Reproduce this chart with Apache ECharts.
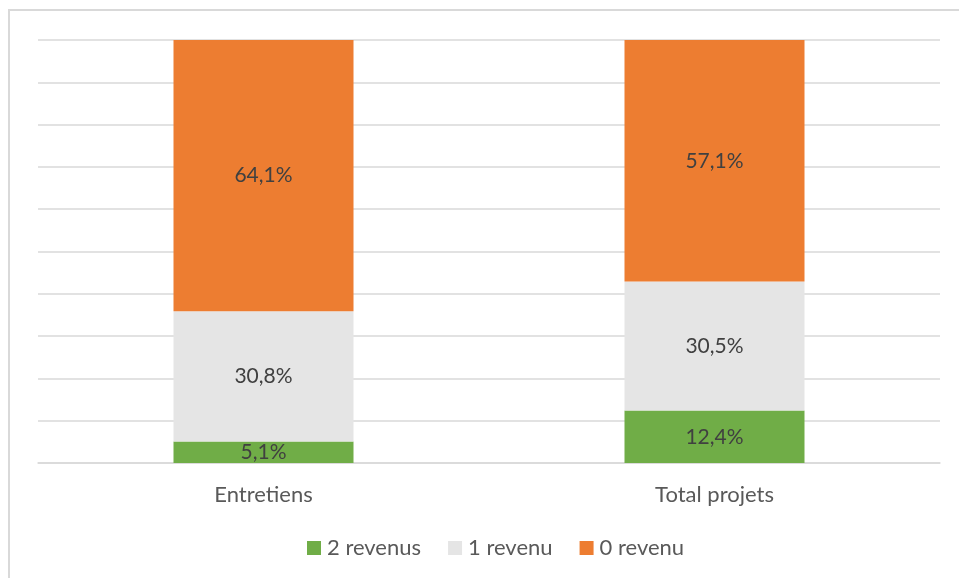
<!DOCTYPE html>
<html><head><meta charset="utf-8">
<script src="https://cdn.jsdelivr.net/npm/echarts@6/dist/echarts.min.js"></script>
<style>html,body{margin:0;padding:0;background:#fff}#c{width:959px;height:578px}</style>
</head><body><div id="c"></div>
<script>
const categories = ['Entretiens', 'Total projets'];
const seriesNames = ['2 revenus', '1 revenu', '0 revenu'];
const deuxRevenus = [5.1, 12.4];
const unRevenu = [30.8, 30.5];
const zeroRevenu = [64.1, 57.1];
const colors = ['#70ad47', '#e5e5e5', '#ed7d31'];

const font = 'Lato, "Open Sans", sans-serif';
const chart = echarts.init(document.getElementById('c'));
const lbl = {
  show: true, position: 'inside', color: '#404040', fontSize: 21, fontFamily: font,
  formatter: p => p.value.toFixed(1).replace('.', ',') + '%'
};
const vals = [deuxRevenus, unRevenu, zeroRevenu];
chart.setOption({
  animation: false,
  graphic: [{type: 'rect', shape: {x: 9, y: 10, width: 1000, height: 1000},
    style: {fill: 'none', stroke: '#d9d9d9', lineWidth: 2}, silent: true}],
  grid: {left: 38, right: 19, top: 40, bottom: 115},
  legend: {
    top: 532, left: 302, itemWidth: 14, itemHeight: 14, itemGap: 27,
    icon: 'rect',
    textStyle: {color: '#595959', fontSize: 22, fontFamily: font, padding: [0, 0, 0, 1]},
    data: seriesNames
  },
  xAxis: {
    type: 'category', data: categories,
    axisLine: {lineStyle: {color: '#d9d9d9', width: 1.5}},
    axisTick: {show: false},
    axisLabel: {color: '#595959', fontSize: 22, fontFamily: font, margin: 21}
  },
  yAxis: {
    type: 'value', min: 0, max: 100, interval: 10,
    axisLabel: {show: false},
    splitLine: {lineStyle: {color: '#d9d9d9', width: 1.5}}
  },
  series: seriesNames.map((n, i) => ({
    name: n, type: 'bar', stack: 'a', barWidth: 180,
    data: vals[i],
    itemStyle: {color: colors[i]},
    label: lbl
  }))
});
</script></body></html>
